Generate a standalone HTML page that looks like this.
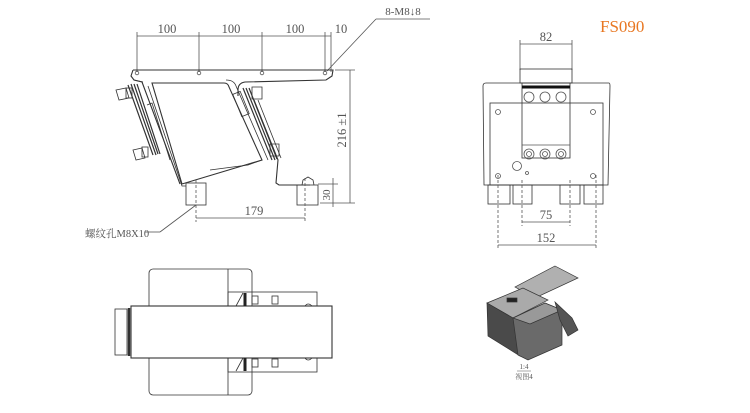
<!DOCTYPE html>
<html><head><meta charset="utf-8"><style>
html,body{margin:0;padding:0;background:#fff;width:750px;height:413px;overflow:hidden}
svg{display:block}
text{font-family:"Liberation Serif","Noto Serif CJK SC",serif;fill:#555}
</style></head><body>
<svg width="750" height="413" viewBox="0 0 750 413" xmlns="http://www.w3.org/2000/svg">
<g stroke="#555" stroke-width="0.8" fill="none">
<line x1="137" y1="36" x2="331" y2="36"/>
<line x1="137" y1="32" x2="137" y2="72"/><line x1="199" y1="32" x2="199" y2="72"/>
<line x1="262" y1="32" x2="262" y2="72"/><line x1="325" y1="32" x2="325" y2="72"/>
<line x1="331" y1="32" x2="331" y2="72"/>
<line x1="376" y1="19" x2="430" y2="19"/><line x1="376" y1="19" x2="327" y2="71"/>
<path d="M133 70 L333 70 L332 76 L326 80 L245 82 Q238 83 238 90 L238 96" stroke="#333" stroke-width="1.1"/>
<path d="M133 70 L131 76 L134 80 L142 82 L180 184" stroke="#333" stroke-width="1.1"/>
<path d="M134 80 L143 82" stroke="#333"/>
<path d="M226 80 Q234 80 236 86 L268 160" stroke="#333"/>
<circle cx="137" cy="73" r="1.8"/><circle cx="199" cy="73" r="1.8"/><circle cx="262" cy="73" r="1.8"/><circle cx="325" cy="73" r="1.8"/>
<path d="M152 83 L224 83 Q228 83 229 87 L262 160 L182 184 Z" stroke="#333" stroke-width="1.1"/>
<path d="M148 86 L182 186 L186 186" stroke="#333"/>
<path d="M147 105 L152 103 L170 160" stroke="#333"/>
<g stroke="#333" stroke-width="1.2">
<line x1="128" y1="85" x2="153" y2="155"/><line x1="131" y1="84" x2="156" y2="155"/>
<line x1="134" y1="84" x2="158" y2="154"/><line x1="137" y1="84" x2="160" y2="154"/>
</g>
<path d="M116 90 L126 88 L129 98 L119 100 Z" stroke="#333"/><rect x="126" y="88" width="6" height="10" stroke="#333"/>
<path d="M133 150 L142 148 L145 158 L136 160 Z" stroke="#333"/><rect x="142" y="147" width="6" height="10" stroke="#333"/>
<g stroke="#333" stroke-width="1.2">
<line x1="243" y1="88" x2="272" y2="160"/><line x1="246" y1="88" x2="275" y2="160"/>
<line x1="249" y1="88" x2="277" y2="159"/>
</g>
<rect x="237" y="92" width="8" height="24" stroke="#333" transform="rotate(-22 241 104)"/>
<path d="M252 87 L262 87 L262 99 L252 99 Z" stroke="#333"/>
<path d="M270 144 L279 144 L279 156 L270 156 Z" stroke="#333"/>
<path d="M262 160 L248 165 L210 170" stroke="#333"/>
<path d="M254 100 L278 160 L276 183 L279 185 L310 185" stroke="#333" stroke-width="1.1"/>
<path d="M258 100 L281 158" stroke="#333"/>
<rect x="186" y="183" width="20" height="22" stroke="#333"/>
<rect x="297" y="185" width="21" height="20" stroke="#333"/>
<path d="M302 185 L303 180 L308 177 L313 180 L314 185" stroke="#333"/>
<line x1="196" y1="180" x2="196" y2="222" stroke-dasharray="3,2"/>
<line x1="305" y1="178" x2="305" y2="222" stroke-dasharray="3,2"/>
<line x1="196" y1="218" x2="305" y2="218"/>
<line x1="196" y1="205" x2="160" y2="232"/><line x1="160" y1="232" x2="145" y2="232"/>
<line x1="335" y1="70" x2="355" y2="70"/><line x1="320" y1="203" x2="355" y2="203"/>
<line x1="350" y1="70" x2="350" y2="203"/>
<line x1="318" y1="184" x2="338" y2="184"/><line x1="333" y1="178" x2="333" y2="207"/>
<line x1="520" y1="44" x2="572" y2="44"/>
<line x1="520" y1="40" x2="520" y2="70"/><line x1="572" y1="40" x2="572" y2="70"/>
<rect x="520" y="69" width="52" height="14" stroke="#333"/>
<path d="M486 83 L609 83 Q610 83 610 86 L608 185 L484 185 L483 86 Q483 83 486 83 Z" stroke="#333"/>
<rect x="490" y="103" width="113" height="82" stroke="#333"/>
<rect x="522" y="83" width="48" height="75" stroke="#333"/>
<line x1="522" y1="87" x2="570" y2="87" stroke="#111" stroke-width="3"/>
<line x1="522" y1="145" x2="570" y2="145"/>
<circle cx="529" cy="97" r="5"/><circle cx="545" cy="97" r="5"/><circle cx="561" cy="97" r="5"/>
<circle cx="529" cy="154" r="5"/><circle cx="545" cy="154" r="5"/><circle cx="561" cy="154" r="5"/>
<circle cx="529" cy="154" r="2.5"/><circle cx="545" cy="154" r="2.5"/><circle cx="561" cy="154" r="2.5"/>
<circle cx="498" cy="112" r="2.5"/><circle cx="593" cy="112" r="2.5"/><circle cx="498" cy="176" r="2.5"/><circle cx="593" cy="176" r="2.5"/>
<circle cx="517" cy="166" r="4.5"/><circle cx="527" cy="173" r="1.5"/>
<rect x="488" y="185" width="22" height="19" stroke="#333"/><rect x="513" y="185" width="19" height="19" stroke="#333"/>
<rect x="560" y="185" width="20" height="19" stroke="#333"/><rect x="584" y="185" width="19" height="19" stroke="#333"/>
<line x1="522" y1="180" x2="522" y2="226" stroke-dasharray="3,2"/><line x1="570" y1="180" x2="570" y2="226" stroke-dasharray="3,2"/>
<line x1="498" y1="175" x2="498" y2="249" stroke-dasharray="3,2"/><line x1="596" y1="175" x2="596" y2="249" stroke-dasharray="3,2"/>
<line x1="522" y1="222" x2="570" y2="222"/><line x1="498" y1="245" x2="596" y2="245"/>
<rect x="149" y="269" width="103" height="126" rx="4" stroke="#333"/>
<line x1="228" y1="269" x2="228" y2="395" stroke="#333"/>
<rect x="228" y="292" width="89" height="80" stroke="#333"/>
<rect x="131" y="306" width="201" height="52" fill="#fff" stroke="#333" stroke-width="1.1"/>
<rect x="115" y="309" width="12" height="46" stroke="#333"/>
<line x1="129" y1="308" x2="129" y2="356" stroke="#333" stroke-width="2.5"/>
<path d="M243 293 L236 306 M243 358 L236 371" stroke="#333"/>
<line x1="245" y1="293" x2="245" y2="306" stroke="#222" stroke-width="3"/><line x1="245" y1="358" x2="245" y2="371" stroke="#222" stroke-width="3"/>
<rect x="252" y="296" width="6" height="8" stroke="#333"/><rect x="272" y="296" width="6" height="8" stroke="#333"/>
<rect x="252" y="359" width="6" height="8" stroke="#333"/><rect x="272" y="359" width="6" height="8" stroke="#333"/>
<path d="M305 306 Q308 302 312 306 M305 358 Q308 362 312 358" stroke="#333"/>
</g>
<g stroke="#333" stroke-width="0.7">
<polygon points="555,266 578,278 535,298 515,287" fill="#b0b0b0"/>
<polygon points="487,303 523,288 548,300 513,318" fill="#aaa"/>
<polygon points="487,303 513,318 520,356 488,336" fill="#4a4a4a"/>
<polygon points="513,318 545,303 562,310 562,345 528,360 518,355" fill="#6a6a6a"/>
<polygon points="513,318 545,303 562,310 530,324" fill="#999"/>
<polygon points="555,302 572,318 578,330 568,336 560,320" fill="#555"/>
<rect x="507" y="298" width="10" height="4" fill="#222"/>
</g>
<g font-size="12.5" text-anchor="middle">
<text x="167" y="33">100</text><text x="231" y="33">100</text><text x="295" y="33">100</text><text x="341" y="33">10</text>
<text x="403" y="15" font-size="11">8-M8↓8</text>
<text x="254" y="215">179</text>
<text x="546" y="41">82</text><text x="546" y="219">75</text><text x="546" y="242">152</text>
<text transform="translate(346,130) rotate(-90)">216 ±1</text>
<text transform="translate(330,195) rotate(-90)" font-size="11">30</text>
</g>
<text x="85" y="237" font-size="10.5" fill="#333">螺纹孔M8X10</text>
<text x="600" y="32" font-size="17" style="fill:#e87722">FS090</text>
<text x="524" y="369" font-size="7" text-anchor="middle">1:4</text>
<line x1="517" y1="371" x2="531" y2="371" stroke="#555" stroke-width="0.5"/>
<text x="524" y="379" font-size="7" text-anchor="middle">视图4</text>
</svg>
</body></html>
